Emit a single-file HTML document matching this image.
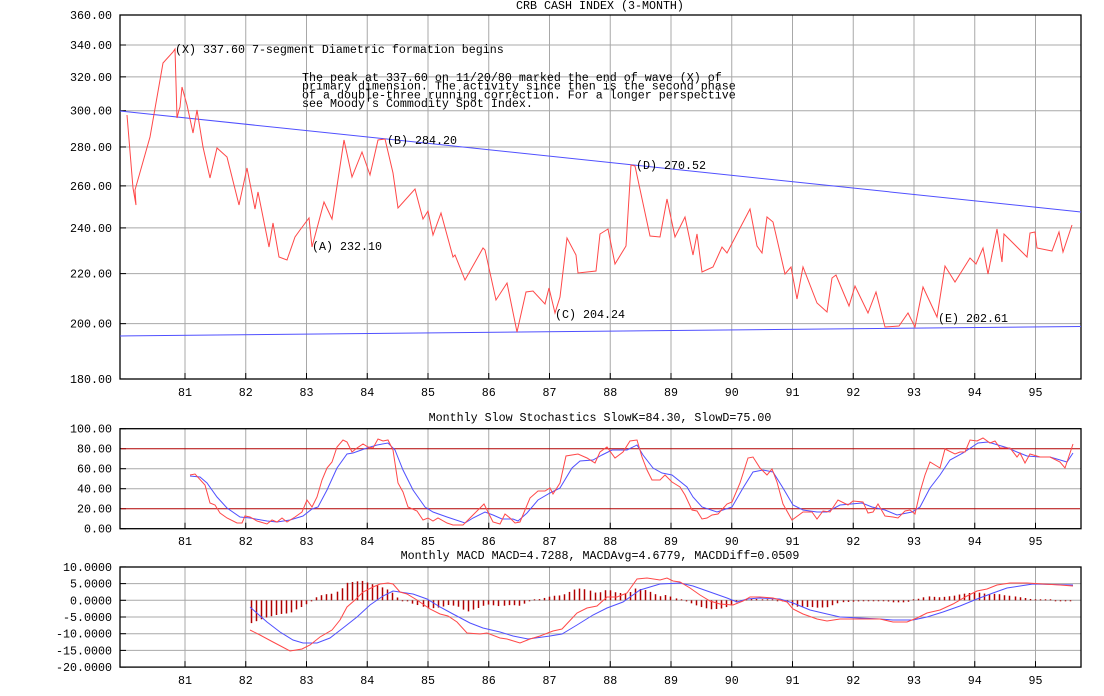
<!DOCTYPE html>
<html><head><meta charset="utf-8"><style>
html,body{margin:0;padding:0;background:#fff;}
svg{display:block;}
text{font-family:"Liberation Mono",monospace;font-size:11.67px;fill:#000;}
</style></head><body>
<svg id="s" width="1104" height="696" xmlns="http://www.w3.org/2000/svg">
<g id="grid" stroke="#a8a8a8" stroke-width="1" fill="none"></g>
<g id="fg"></g>
</svg>
<script>
const NS="http://www.w3.org/2000/svg";
const s=document.getElementById('s'),G=document.getElementById('grid'),F=document.getElementById('fg');
function el(p,tag,a,txt){const e=document.createElementNS(NS,tag);for(const k in a)e.setAttribute(k,a[k]);if(txt!=null)e.textContent=txt;p.appendChild(e);return e;}
function line(p,x1,y1,x2,y2,c,w){el(p,'line',{x1,y1,x2,y2,stroke:c,'stroke-width':w||1});}
function poly(pts,c){el(F,'polyline',{points:pts.map(p=>p.join(',')).join(' '),fill:'none',stroke:c,'stroke-width':1});}
function txt(x,y,t,anchor){el(F,'text',{x,y,'text-anchor':anchor||'start'},t);}
const L=120,R=1081;
const yrX=y=>185+(y-81)*60.75;
function panel(top,bot,ticks,xlabY){
  for(let y=81;y<=95;y++){line(G,yrX(y),top,yrX(y),bot,'#a8a8a8');}
  ticks.forEach(t=>{ if(t.g)line(G,L,t.y,R,t.y,t.c||'#a8a8a8'); txt(112,t.y+4,t.l,'end'); line(F,L,t.y,L+6,t.y,'#000');});
  for(let y=81;y<=95;y++){line(F,yrX(y),bot,yrX(y),bot-6,'#000');txt(yrX(y),xlabY,String(y),'middle');}
  el(F,'rect',{x:L,y:top,width:R-L,height:bot-top,fill:'none',stroke:'#000','stroke-width':1.3});
}
const lg=v=>15+Math.log(360/v)*525.1;
let mt=[];[360,340,320,300,280,260,240,220,200,180].forEach(v=>mt.push({y:lg(v),l:v.toFixed(2),g:v!=360&&v!=180}));
panel(15,379,mt,396);
txt(600,9,'CRB CASH INDEX (3-MONTH)','middle');
const main=[[127,115],[133,188],[136,205],[135,190],[150,137],[163,63],[173,52],[175,49],[176,83],[177,118],[179,110],[180,107],[182,87],[187,105],[193,133],[197,110],[203,147],[210,178],[217,148],[227,157],[239,205],[247,168],[255,209],[258,192],[269,247],[273,223],[279,257],[287,260],[295,237],[300,230],[309,218],[312,247],[324,202],[332,219],[344,140],[352,177],[362,152],[370,175],[378,140],[385,139],[393,173],[398,208],[415,189],
[420,208],[423,219],[428,211],[433,235],[441,213],[453,257],[455,255],[465,280],[483,248],[485,250],[496,300],[507,283],[517,332],[526,292],[533,291],[545,304],[549,288],[555,313],[560,297],[567,238],[576,255],[578,273],[596,271],[600,234],[608,229],[615,264],[626,246],[631,165],[635,166],[650,236],[660,237],[667,199],[675,237],[685,217],[693,255],[697,234],[702,272],[713,267],[722,247],[727,253],[750,209],[757,246],[762,253],[767,217],[773,222],[785,274],[791,267],[797,299],[803,267],
[817,303],[827,312],[832,278],[836,275],[849,306],[855,286],[868,313],[876,292],[885,327],[899,326],[908,313],[915,327],[923,287],[937,317],[945,266],[955,282],[970,258],[976,264],[983,248],[988,274],[997,229],[1002,262],[1004,234],[1027,257],[1030,233],[1035,232],[1037,248],[1052,251],[1059,232],[1063,252],[1072,225]];
poly([[120,111],[1081,212]],'#5050ff');
poly([[120,336],[1081,326.5]],'#5050ff');
poly(main,'#ff4848');
txt(175,53,'(X) 337.60 7-segment Diametric formation begins');
['The peak at 337.60 on 11/20/80 marked the end of wave (X) of','primary dimension.  The activity since then is the second phase','of a double-three running correction.  For a longer perspective','see Moody\'s Commodity Spot Index.'].forEach((t,i)=>txt(302,81+i*8.7,t));
txt(387,144,'(B) 284.20');txt(312,250,'(A) 232.10');txt(636,169,'(D) 270.52');txt(555,318,'(C) 204.24');txt(938,322,'(E) 202.61');
const sy=v=>528.7-v;
panel(428.7,528.7,[100,80,60,40,20,0].map(v=>({y:sy(v),l:v.toFixed(2),g:v!=100&&v!=0&&v!=80&&v!=20})),545);
line(F,L+1,sy(80),R-1,sy(80),'#b00000');line(F,L+1,sy(20),R-1,sy(20),'#b00000');
txt(600,421,'Monthly Slow Stochastics SlowK=84.30, SlowD=75.00','middle');
const sb=[[190,476],[200,477],[207,483],[217,497],[227,508],[240,517],[250,518],[267,521],[277,522],[290,520],[303,516],[312,509],[318,507],[327,490],[337,468],[347,454],[353,453],[367,448],[377,445],[388,443],[395,450],[403,470],[413,490],[425,507],[433,512],[447,517],[465,523],[473,518],[485,512],[493,515],[502,519],[513,519],[518,521],[527,513],[538,500],[550,493],[560,488],[572,468],[580,461],[593,460],[602,455],[612,450],[627,450],[637,445],[643,455],[653,468],[662,473],[672,475],[687,487],[693,497],[702,507],[717,512],[732,507],[743,488],[753,472],[763,470],[773,472],[783,488],[793,505],[803,510],[817,512],[827,512],[840,505],[862,503],[872,507],[885,510],[897,515],[912,512],[920,507],[930,488],[940,475],[950,460],[963,453],[978,443],[988,442],[998,445],[1008,448],[1017,452],[1027,456],[1040,457],[1050,457],[1067,462],[1073,453]];
const sr=[[190,475],[195,474],[205,485],[210,503],[215,505],[220,513],[227,518],[237,523],[242,523],[245,516],[250,517],[257,521],[267,524],[272,520],[277,522],[282,518],[287,522],[295,517],[302,512],[307,500],[312,507],[317,497],[322,480],[327,468],[332,462],[337,447],[343,440],[347,442],[352,452],[357,448],[363,444],[368,447],[373,448],[378,439],[383,441],[388,440],[393,450],[398,483],[403,492],[408,507],[417,511],[423,520],[428,518],[433,521],[438,518],[447,523],[453,525],[463,525],[473,515],[484,504],[488,512],[493,522],[500,524],[505,514],[510,518],[515,523],[520,522],[530,498],[538,491],[545,491],[550,488],[553,494],[560,483],[566,456],[578,454],[587,458],[595,463],[600,452],[607,447],[615,458],[623,452],[630,441],[637,440],[642,457],[647,470],[652,480],[660,480],[665,475],[672,482],[680,487],[685,495],[692,510],[697,511],[702,519],[707,518],[712,515],[718,514],[727,504],[732,502],[740,483],[748,458],[753,457],[760,468],[767,475],[772,469],[777,482],[783,504],[792,520],[803,512],[812,512],[817,519],[823,511],[830,512],[838,500],[848,505],[853,501],[863,502],[868,513],[873,512],[878,504],[885,516],[893,517],[898,518],[905,511],[910,510],[915,514],[920,492],[925,475],[930,462],[940,468],[945,449],[955,454],[960,452],[965,452],[970,440],[977,441],[983,438],[990,443],[995,441],[1000,448],[1010,448],[1017,457],[1020,453],[1025,463],[1030,454],[1040,457],[1050,457],[1060,462],[1065,468],[1073,444]];
poly(sb,'#5050ff');poly(sr,'#ff4848');
const my=v=>600.3-v*3.34;
panel(567,667.1,[10,5,0,-5,-10,-15,-20].map(v=>({y:my(v),l:v.toFixed(4),g:v!=10&&v!=-20})),684);
txt(600,559,'Monthly MACD MACD=4.7288, MACDAvg=4.6779, MACDDiff=0.0509','middle');
const mr=[[250,630],[260,635],[273,642],[290,651],[302,649],[310,645],[320,637],[332,630],[340,620],[347,607],[355,600],[363,592],[373,587],[380,584],[388,583],[393,584],[400,592],[407,594],[417,600],[430,609],[440,614],[448,616],[457,622],[467,633],[480,634],[487,633],[500,638],[507,639],[520,643],[530,639],[540,636],[553,631],[562,629],[577,613],[587,608],[597,606],[607,597],[617,597],[627,593],[637,579],[647,578],[660,580],[667,578],[673,581],[680,582],[690,588],[700,595],[710,601],[720,604],[733,605],[743,601],[750,597],[760,597],[773,598],[787,602],[793,609],[803,614],[817,619],[827,621],[840,619],[860,619],[880,619],[893,622],[907,622],[917,618],[927,613],[940,610],[953,604],[967,596],[977,591],[987,589],[997,585],[1010,583],[1027,583],[1043,584],[1060,585],[1073,586]];
const mb=[[250,607],[267,622],[280,632],[293,640],[303,643],[317,643],[330,638],[343,628],[357,617],[370,605],[383,596],[393,591],[413,594],[427,599],[440,607],[453,614],[470,623],[483,628],[500,632],[513,636],[528,639],[550,636],[562,634],[577,625],[593,615],[607,608],[623,602],[640,590],[660,584],[680,583],[693,586],[710,592],[727,598],[737,602],[747,599],[760,598],[780,599],[793,603],[810,610],[827,614],[840,617],[860,618],[880,619],[893,620],[913,620],[927,617],[943,612],[960,606],[977,599],[993,593],[1007,588],[1020,586],[1033,584],[1073,585]];
function interp(a,x){for(let i=1;i<a.length;i++){if(a[i][0]>=x){const [x0,y0]=a[i-1],[x1,y1]=a[i];return y0+(y1-y0)*(x-x0)/(x1-x0);}}return a[a.length-1][1];}
for(let x=250.5;x<=1073;x+=5.06){
  let d=interp(mr,x)-interp(mb,x);
  if(Math.abs(d)<1)d=d<0?-1:1;
  el(F,'line',{x1:Math.round(x)+0.5,y1:600.3,x2:Math.round(x)+0.5,y2:600.3+d,stroke:'#b00000','stroke-width':1.5});
}
poly(mb,'#5050ff');poly(mr,'#ff4848');
</script>
</body></html>
